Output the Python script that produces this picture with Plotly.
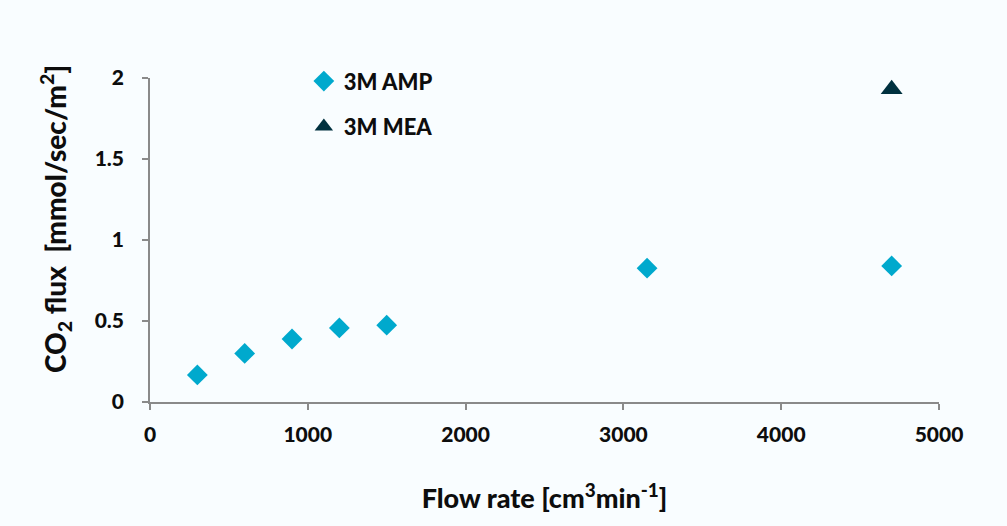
import plotly.graph_objects as go

# Data
amp_flow = [300, 600, 900, 1200, 1500, 3150, 4700]
amp_flux = [0.167, 0.30, 0.389, 0.457, 0.474, 0.826, 0.84]
mea_flow = [4700]
mea_flux = [1.93]

x_ticks = [0, 1000, 2000, 3000, 4000, 5000]
y_ticks = [0, 0.5, 1, 1.5, 2]
y_ticktext = ["0", "0.5", "1", "1.5", "2"]

FONT = "Lato"
BG = "#f9fdff"
AXIS = "#8a8a8a"
TXT = "#0d0d0d"
W = 900

fig = go.Figure()
fig.add_trace(go.Scatter(
    x=amp_flow, y=amp_flux, mode="markers", name="3M AMP",
    marker=dict(symbol="diamond", size=16, color="#00a9cd"),
    legend="legend", showlegend=True, cliponaxis=False,
))
fig.add_trace(go.Scatter(
    x=mea_flow, y=mea_flux, mode="markers", name="3M MEA",
    marker=dict(symbol="triangle-up", size=19, color="#00313f"),
    legend="legend2", showlegend=True, cliponaxis=False,
))

legend_common = dict(
    font=dict(family=FONT, size=22, color=TXT, weight=W),
    bgcolor="rgba(0,0,0,0)", borderwidth=0,
    xanchor="left", yanchor="middle", itemwidth=30,
)

fig.update_layout(
    width=1007, height=526,
    margin=dict(l=150, r=68, t=78, b=124),
    paper_bgcolor=BG, plot_bgcolor=BG,
    showlegend=True,
    font=dict(family=FONT, color=TXT),
    legend=dict(x=0.195, y=0.99, **legend_common),
    legend2=dict(x=0.195, y=0.85, **legend_common),
    xaxis=dict(
        range=[0, 5000], tickvals=x_ticks,
        showgrid=False, zeroline=False,
        showline=True, linecolor=AXIS, linewidth=1.5,
        ticks="outside", ticklen=6, tickcolor=AXIS, tickwidth=1.5,
        tickfont=dict(family=FONT, size=21, weight=W, color=TXT),
        ticklabelstandoff=7,
        title=dict(text="Flow rate [cm<sup>3</sup>min<sup>-1</sup>]",
                   font=dict(family=FONT, size=27, weight=W, color=TXT),
                   standoff=44),
    ),
    yaxis=dict(
        range=[0, 2], tickvals=y_ticks, ticktext=y_ticktext,
        showgrid=False, zeroline=False,
        showline=True, linecolor=AXIS, linewidth=1.5,
        ticks="outside", ticklen=6, tickcolor=AXIS, tickwidth=1.5,
        tickfont=dict(family=FONT, size=21, weight=W, color=TXT),
        ticklabelstandoff=14,
    ),
    annotations=[dict(
        text="CO<sub>2</sub> flux  [mmol/sec/m<sup>2</sup>]",
        xref="paper", yref="paper", x=(55 - 150) / 789, y=(402 - 219) / 324,
        xanchor="center", yanchor="middle", textangle=-90, showarrow=False,
        font=dict(family=FONT, size=28, weight=W, color=TXT),
    )],
)

fig.write_html("out.html")
